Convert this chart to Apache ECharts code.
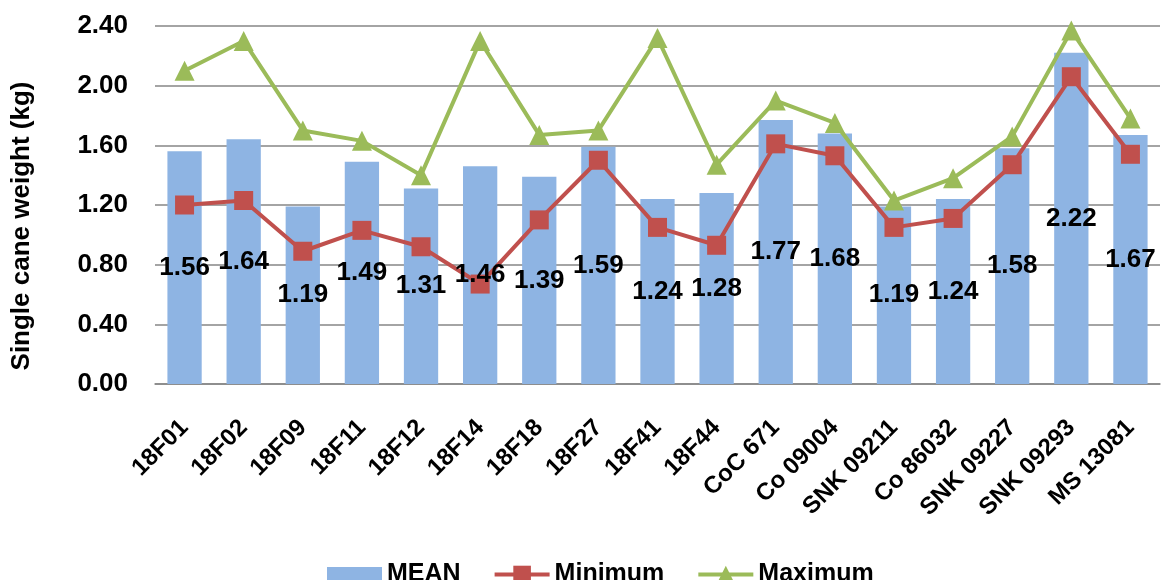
<!DOCTYPE html>
<html><head><meta charset="utf-8">
<script src="https://cdn.jsdelivr.net/npm/echarts@6/dist/echarts.min.js"></script>
<style>html,body{margin:0;padding:0;background:#fff}#c{width:1166px;height:580px}</style>
</head><body><div id="c"></div>
<script>
const categories = ['18F01','18F02','18F09','18F11','18F12','18F14','18F18','18F27','18F41','18F44','CoC 671','Co 09004','SNK 09211','Co 86032','SNK 09227','SNK 09293','MS 13081'];
const meanValues = [1.56,1.64,1.19,1.49,1.31,1.46,1.39,1.59,1.24,1.28,1.77,1.68,1.19,1.24,1.58,2.22,1.67];
const minValues = [1.20,1.23,0.89,1.03,0.92,0.67,1.10,1.50,1.05,0.93,1.61,1.53,1.05,1.11,1.47,2.06,1.54];
const maxValues = [2.10,2.30,1.70,1.63,1.40,2.30,1.67,1.70,2.32,1.47,1.90,1.75,1.23,1.38,1.66,2.37,1.78];
const yTicks = {min:0, max:2.4, interval:0.4};

const font = 'Liberation Sans, Arial, sans-serif';
const chart = echarts.init(document.getElementById('c'));
chart.setOption({
  animation:false,
  backgroundColor:'#fff',
  textStyle:{fontFamily:font},
  grid:{left:155, right:6, top:26, bottom:196, containLabel:false},
  legend:{
    top:557, left:322, itemGap:32, itemWidth:55, itemHeight:22,
    lineStyle:{width:4},
    textStyle:{fontSize:25, fontWeight:'bold', color:'#000', fontFamily:font},
    data:[
      {name:'MEAN', icon:'path://M0,0H52V14H0Z'},
      {name:'Minimum'},
      {name:'Maximum'}
    ]
  },
  xAxis:{
    type:'category', data:categories,
    axisLine:{lineStyle:{color:'#868686', width:1.5}},
    axisTick:{show:false},
    axisLabel:{rotate:45, interval:0, fontSize:24, fontWeight:'bold', color:'#000', margin:40, fontFamily:font}
  },
  yAxis:{
    type:'value', min:yTicks.min, max:yTicks.max, interval:yTicks.interval,
    name:'Single cane weight (kg)', nameLocation:'middle', nameGap:120,
    nameTextStyle:{fontSize:26, fontWeight:'bold', color:'#000', fontFamily:font, padding:[0,42,0,0]},
    axisLine:{show:false}, axisTick:{show:false},
    splitLine:{lineStyle:{color:'#868686', width:1.5}},
    axisLabel:{formatter:v=>v.toFixed(2), fontSize:26, fontWeight:'bold', color:'#000', margin:27, fontFamily:font}
  },
  series:[
    {name:'MEAN', type:'bar', data:meanValues, barWidth:'58%',
     itemStyle:{color:'#8EB4E3'}, z:2},
    {name:'Minimum', type:'line', data:minValues, symbol:'rect', symbolSize:19,
     lineStyle:{color:'#C0504D', width:4}, itemStyle:{color:'#C0504D'}, z:3},
    {name:'Maximum', type:'line', data:maxValues, symbol:'triangle', symbolSize:20,
     lineStyle:{color:'#9BBB59', width:4}, itemStyle:{color:'#9BBB59'}, z:4},
    {name:'MEAN labels', type:'bar', data:meanValues, barWidth:'58%', barGap:'-100%',
     itemStyle:{color:'rgba(0,0,0,0)'}, silent:true, z:6,
     label:{show:true, position:'inside', fontSize:26, fontWeight:'bold', color:'#000', fontFamily:font, formatter:p=>p.value.toFixed(2)}}
  ]
});
</script></body></html>
